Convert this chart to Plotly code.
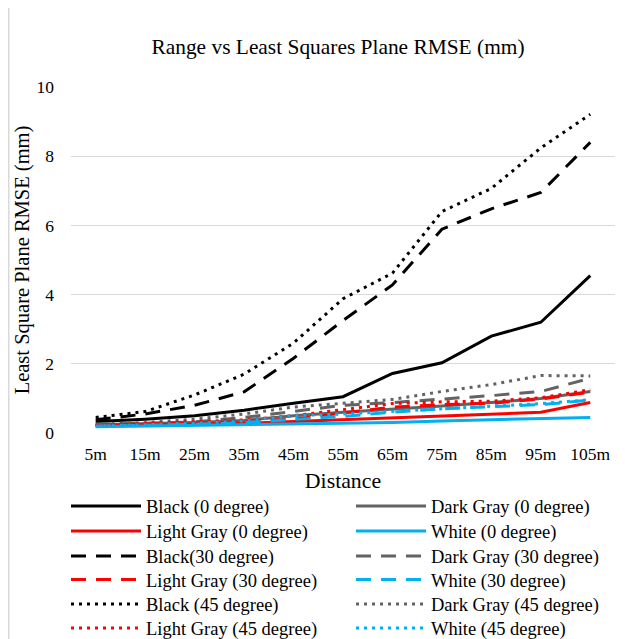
import plotly.graph_objects as go

distances = ["5m", "15m", "25m", "35m", "45m", "55m", "65m", "75m", "85m", "95m", "105m"]

black_0 = [0.33, 0.40, 0.50, 0.66, 0.86, 1.05, 1.72, 2.03, 2.80, 3.20, 4.55]
dark_gray_0 = [0.24, 0.27, 0.30, 0.36, 0.50, 0.60, 0.68, 0.78, 0.88, 1.00, 1.20]
light_gray_0 = [0.22, 0.24, 0.26, 0.28, 0.33, 0.38, 0.43, 0.49, 0.54, 0.60, 0.88]
white_0 = [0.18, 0.20, 0.21, 0.22, 0.24, 0.27, 0.30, 0.35, 0.38, 0.42, 0.45]

black_30 = [0.38, 0.55, 0.80, 1.19, 2.16, 3.25, 4.28, 5.89, 6.48, 6.95, 8.40]
dark_gray_30 = [0.25, 0.28, 0.32, 0.45, 0.62, 0.80, 0.88, 0.97, 1.08, 1.20, 1.58]
light_gray_30 = [0.22, 0.26, 0.30, 0.33, 0.40, 0.58, 0.75, 0.82, 0.86, 0.98, 1.18]
white_30 = [0.20, 0.22, 0.25, 0.30, 0.38, 0.48, 0.60, 0.70, 0.76, 0.82, 0.95]

black_45 = [0.45, 0.62, 1.10, 1.70, 2.60, 3.88, 4.62, 6.40, 7.07, 8.24, 9.21]
dark_gray_45 = [0.25, 0.30, 0.40, 0.55, 0.75, 0.86, 0.97, 1.20, 1.40, 1.66, 1.65]
light_gray_45 = [0.22, 0.27, 0.33, 0.38, 0.50, 0.68, 0.85, 0.90, 0.92, 1.02, 1.25]
white_45 = [0.20, 0.23, 0.28, 0.35, 0.50, 0.55, 0.62, 0.70, 0.78, 0.85, 0.96]

# (name, values, colour, dash) in legend reading order (two per row)
series = [
    ("Black (0 degree)", black_0, "#000000", "solid"),
    ("Dark Gray (0 degree)", dark_gray_0, "#636363", "solid"),
    ("Light Gray (0 degree)", light_gray_0, "#ff0000", "solid"),
    ("White (0 degree)", white_0, "#00b0f0", "solid"),
    ("Black(30 degree)", black_30, "#000000", "15px,10px"),
    ("Dark Gray (30 degree)", dark_gray_30, "#636363", "15px,10px"),
    ("Light Gray (30 degree)", light_gray_30, "#ff0000", "15px,10px"),
    ("White (30 degree)", white_30, "#00b0f0", "15px,10px"),
    ("Black (45 degree)", black_45, "#000000", "3px,5px"),
    ("Dark Gray (45 degree)", dark_gray_45, "#636363", "3px,5px"),
    ("Light Gray (45 degree)", light_gray_45, "#ff0000", "3px,5px"),
    ("White (45 degree)", white_45, "#00b0f0", "3px,5px"),
]

# figure is placed at (8, 8) in the page by the default body margin
W, H = 617, 631
PL, PR, PT, PB = 63, 607, 79, 425
PW, PH = PR - PL, PB - PT

def legend_id(row):
    return "legend" if row == 0 else f"legend{row + 1}"

fig = go.Figure()
for i, (name, vals, color, dash) in enumerate(series):
    fig.add_trace(go.Scatter(
        x=distances, y=vals, name=name, mode="lines", legend=legend_id(i // 2),
        line=dict(color=color, width=3, dash=dash),
    ))

font_family = "Liberation Serif, Times New Roman, serif"

row_centers = [498.5, 523.5, 548.5, 572, 596.5, 620.5]  # figure pixels
legends = {}
for r, yc in enumerate(row_centers):
    legends[legend_id(r)] = dict(
        orientation="h", xanchor="left", yanchor="middle",
        x=(58 - PL) / PW, y=(PB - yc) / PH,
        entrywidth=200, entrywidthmode="pixels", itemwidth=70,
        font=dict(size=18.5, family=font_family), bgcolor="rgba(0,0,0,0)",
    )

fig.update_layout(
    width=W, height=H,
    margin=dict(l=PL, r=W - PR, t=PT, b=H - PB, autoexpand=False),
    paper_bgcolor="white", plot_bgcolor="white",
    font=dict(family=font_family, size=17, color="#000000"),
    title=dict(text="Range vs Least Squares Plane RMSE (mm)", x=330 / W, xanchor="center",
               y=1 - 39 / H, yanchor="middle", font=dict(size=21.4, family=font_family)),
    xaxis=dict(range=[-0.5, 10.5], showgrid=False, showline=False, zeroline=False, ticks="",
               ticklabelstandoff=8,
               title=dict(text="Distance", font=dict(size=21.8), standoff=10),
               tickfont=dict(size=17.5)),
    yaxis=dict(range=[0, 10], dtick=2, showgrid=True, gridcolor="#d9d9d9", gridwidth=1.3,
               zeroline=False, showline=False, ticks="", ticklabelstandoff=16,
               title=dict(text="Least Square Plane RMSE (mm)", font=dict(size=20.5), standoff=1),
               tickfont=dict(size=17.5)),
    shapes=[dict(type="line", xref="paper", yref="paper",
                 x0=(0.75 - PL) / PW, x1=(0.75 - PL) / PW,
                 y0=(PB - H) / PH, y1=PB / PH,
                 line=dict(color="#d9d9d9", width=1.5), layer="below")],
    **legends,
)

fig.write_html("out.html")
